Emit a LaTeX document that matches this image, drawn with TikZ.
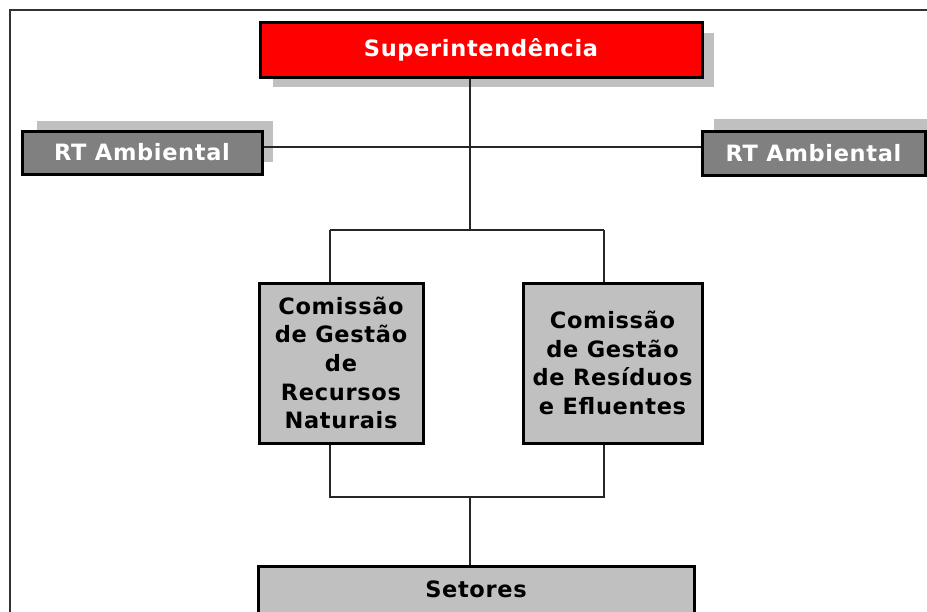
\documentclass[tikz,border=0pt]{standalone}
\usepackage{fontspec}
\setmainfont{DejaVu Sans}[LetterSpace=3.0]
\definecolor{shadowgray}{RGB}{192,192,192}
\definecolor{boxgray}{RGB}{192,192,192}
\definecolor{rtgray}{RGB}{128,128,128}
\definecolor{framegray}{RGB}{50,50,50}
\tikzset{
  boxbase/.style={draw=black, line width=3pt, rectangle, inner sep=0pt, align=center,
    font=\fontsize{22.5}{28.7}\selectfont\bfseries},
  redbox/.style={boxbase, fill=red, text=white},
  rtbox/.style={boxbase, fill=rtgray, text=white},
  graybox/.style={boxbase, fill=boxgray, text=black},
  shadowrect/.style={fill=shadowgray, draw=none},
  conn/.style={draw=black!85, line width=2.4pt},
}
\begin{document}
\begin{tikzpicture}[x=1pt,y=-1pt]
\useasboundingbox (0,0) rectangle (927,611);
\clip (0,0) rectangle (927,611);
\fill[white] (0,0) rectangle (927,611);
% frame
\draw[framegray, line width=1.4pt] (10,640) -- (10,10) -- (960,10);
% shadows
\fill[shadowrect] (273,33) rectangle (714,87);
\fill[shadowrect] (37,121) rectangle (273,162);
\fill[shadowrect] (714,119) rectangle (940,160);
% junction coordinates
\coordinate (j1) at (470,230);
\coordinate (jl) at (330,230);
\coordinate (jr) at (604,230);
\coordinate (k1) at (470,497);
\coordinate (kl) at (330,497);
\coordinate (kr) at (604,497);
% nodes
\node[redbox, minimum width=442pt, minimum height=55pt] (sup) at (481,49.5) {Superintendência};
\node[rtbox, minimum width=240pt, minimum height=43pt] (rtl) at (142,152.5) {RT Ambiental};
\node[rtbox, minimum width=223pt, minimum height=44pt] (rtr) at (813.5,153) {RT Ambiental};
\node[graybox, minimum width=164pt, minimum height=160pt] (cl) at (341,363) {Comissão\\de Gestão\\de\\Recursos\\Naturais};
\node[graybox, minimum width=179pt, minimum height=160pt] (cr) at (612.5,363) {Comissão\\de Gestão\\de Resíduos\\e Efluentes};
\node[graybox, minimum width=436pt, minimum height=47pt] (set) at (476,589.5) {Setores};
% connectors
\draw[conn] (rtl.east |- 0,147) -- (rtr.west |- 0,147);
\draw[conn] (sup.south -| j1) -- (j1);
\draw[conn] (jl) -- (jr);
\draw[conn] (jl) -- (jl |- cl.north);
\draw[conn] (jr) -- (jr |- cr.north);
\draw[conn] (kl |- cl.south) -- (kl) -- (kr) -- (kr |- cr.south);
\draw[conn] (k1) -- (k1 |- set.north);
\end{tikzpicture}
\end{document}
